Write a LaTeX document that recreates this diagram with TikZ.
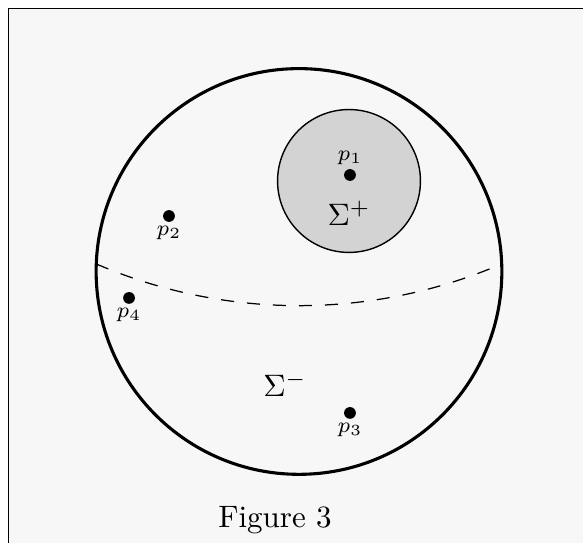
\documentclass[tikz,border=0pt]{standalone}
\definecolor{panelgray}{RGB}{247,247,247}
\definecolor{capgray}{RGB}{211,211,211}
\begin{document}
\begin{tikzpicture}
  [point/.style={circle, fill=black, inner sep=0pt, minimum size=3.8pt},
   plabel/.style={font=\scriptsize, inner sep=1pt}]

  % panel and frame
  \useasboundingbox (-3.39,-3.078) rectangle (3.22,3.078);
  \fill[panelgray] (-3.294,-3.078) rectangle (3.22,2.982);
  \draw[line width=0.6pt] (-3.294,-3.078) -- (-3.294,2.982) -- (3.22,2.982);

  % sphere, cap and equator
  \draw[line width=1pt] (0,0) circle (2.3);
  \draw[fill=capgray, line width=0.45pt] (0.567,1.026) circle (0.81);
  \draw[dash pattern=on 4.2pt off 4.2pt, line width=0.4pt]
    (-2.298,0.085) arc (246.75:293.25:5.82);

  \node[point, label={[plabel]above:$p_1$}] (p1) at (0.578,1.094) {};
  \node[point, label={[plabel]below:$p_2$}] (p2) at (-1.474,0.629) {};
  \node[point, label={[plabel]below:$p_3$}] (p3) at (0.578,-1.604) {};
  \node[point, label={[plabel]below:$p_4$}] (p4) at (-1.927,-0.300) {};

  \node (splus) at (0.567,0.663) {$\Sigma^+$};
  \node (sminus) at (-0.159,-1.276) {$\Sigma^-$};

  \node (caption) at (-0.272,-2.817) {Figure 3};
\end{tikzpicture}
\end{document}
